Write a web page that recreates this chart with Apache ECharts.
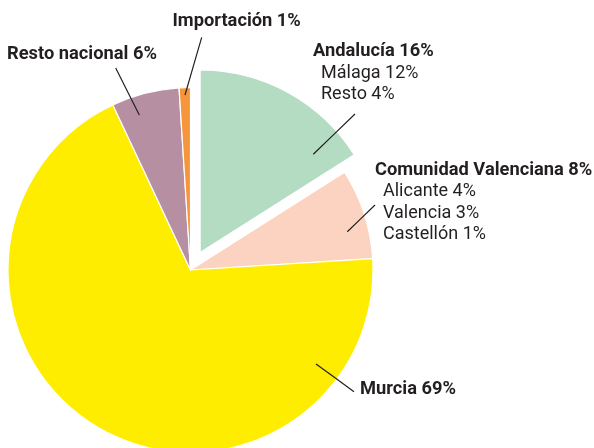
<!DOCTYPE html>
<html>
<head>
<meta charset="utf-8">
<script src="https://cdn.jsdelivr.net/npm/echarts@6/dist/echarts.min.js"></script>
<style>
html,body{margin:0;padding:0;background:#fff;}
#chart{width:594px;height:448px;}
</style>
</head>
<body>
<div id="chart"></div>
<script>
// ---- data ----
var categories = ['Andalucía', 'Comunidad Valenciana', 'Murcia', 'Resto nacional', 'Importación'];
var values = [16, 8, 69, 6, 1];
var subLabels = [
  ['Málaga 12%', 'Resto 4%'],
  ['Alicante 4%', 'Valencia 3%', 'Castellón 1%'],
  [], [], []
];
var colors = ['#b3dcc3', '#fbd3c0', '#ffed00', '#b78fa3', '#f7953b'];

// ---- annotation layout (label anchor + leader line) ----
var labelPos = [
  {x: 313, y: 40.5, line: [[355, 114], [313.3, 154.3]]},
  {x: 375, y: 159, line: [[375, 205], [347.3, 231.7]]},
  {x: 360, y: 378, line: [[354, 391.7], [316, 364]]},
  {x: 7, y: 43, line: [[115.7, 68], [139.3, 115]]},
  {x: 172.5, y: 10.5, line: [[201.7, 37.3], [185, 95]]}
];

var FONT = 'Roboto, "Liberation Sans", Arial, sans-serif';

var sliceData = categories.map(function (c, i) {
  var item = {name: c, value: values[i], itemStyle: {color: colors[i]}};
  if (i === 0) item.selected = true;
  return item;
});
var labelData = categories.map(function (c, i) {
  return {name: c, value: values[i]};
});

var chart = echarts.init(document.getElementById('chart'), null, {renderer: 'canvas'});
chart.setOption({
  animation: false,
  series: [{
    type: 'pie',
    z: 2,
    center: [190.5, 270],
    radius: [0, 182.5],
    startAngle: 90,
    clockwise: true,
    selectedMode: 'single',
    selectedOffset: 20,
    silent: true,
    data: sliceData,
    itemStyle: {borderColor: '#fff', borderWidth: 1.2},
    label: {show: false},
    labelLine: {show: false}
  }, {
    type: 'pie',
    z: 5,
    center: [190.5, 270],
    radius: [0, 182.5],
    startAngle: 90,
    clockwise: true,
    selectedMode: false,
    silent: true,
    data: labelData,
    itemStyle: {color: 'rgba(0,0,0,0)', borderWidth: 0},
    label: {
      show: true,
      position: 'outside',
      overflow: 'none',
      formatter: function (p) {
        var s = '{t|' + p.name + ' ' + p.value + '%}';
        subLabels[p.dataIndex].forEach(function (l) { s += '\n{s|' + l + '}'; });
        return s;
      },
      rich: {
        t: {fontFamily: FONT, fontWeight: 'bold', fontSize: 18.3, lineHeight: 22, color: '#231f20'},
        s: {fontFamily: FONT, fontWeight: 'normal', fontSize: 18, lineHeight: 21.5, color: '#231f20', padding: [0, 0, 0, 8]}
      }
    },
    labelLine: {show: true, smooth: false, lineStyle: {color: '#231f20', width: 1.2}},
    labelLayout: function (params) {
      var lp = labelPos[params.dataIndex];
      var a = lp.line[0], b = lp.line[1];
      return {
        x: lp.x, y: lp.y, align: 'left', verticalAlign: 'top',
        labelLinePoints: [a, [(a[0] + b[0]) / 2, (a[1] + b[1]) / 2], b]
      };
    }
  }]
});
</script>
</body>
</html>
